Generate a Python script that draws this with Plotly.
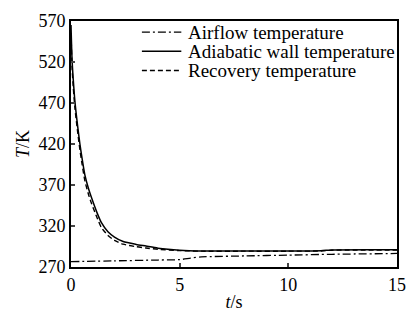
import plotly.graph_objects as go

# Time grid (s) and temperatures (K)
t_wall = [0, 0.05, 0.1, 0.18, 0.3, 0.41, 0.5, 0.64, 0.8, 0.95, 1.2, 1.4, 1.7,
          2.0, 2.4, 3.0, 3.45, 4.0, 5.0, 6.0, 8.0, 10.0, 11.5, 12.0, 15.0]
adiabatic_wall = [565, 522, 500, 472, 443, 420, 404, 382, 366, 354, 336, 324, 313,
                  306.5, 301, 297.5, 295.5, 293, 290.5, 289.5, 289.5, 289.5, 289.8, 290.8, 291]
recovery = [555, 513, 491, 464, 436, 413, 397, 375, 359, 347, 330, 318, 308.5,
            302.5, 297.8, 294.8, 293.2, 291.6, 290, 289.3, 289.3, 289.3, 289.6, 290.5, 290.8]

t_air = [0, 2, 4, 5, 5.5, 6, 8, 10, 12, 15]
airflow = [276.5, 277.5, 278.5, 279, 280.8, 282.3, 283.5, 284.5, 285.5, 286.5]

series_names = ["Airflow temperature", "Adiabatic wall temperature", "Recovery temperature"]

y_ticks = [270, 320, 370, 420, 470, 520, 570]
x_ticks = [0, 5, 10, 15]

FONT = "Liberation Serif"
styles = [
    dict(color="black", width=1.3, dash="8px,3px,2px,3px"),
    dict(color="black", width=1.5, dash="solid"),
    dict(color="black", width=1.4, dash="5px,3px"),
]

fig = go.Figure()
for (tx, ty), name, st in zip([(t_air, airflow), (t_wall, adiabatic_wall), (t_wall, recovery)],
                              series_names, styles):
    fig.add_trace(go.Scatter(x=tx, y=ty, mode="lines", name=name, showlegend=False,
                             line=dict(shape="spline", smoothing=0.6, **st)))

# Legend key drawn in paper coordinates: short line sample plus label per row
row_y = [0.955, 0.877, 0.799]
for yy, name, st in zip(row_y, series_names, styles):
    fig.add_shape(type="line", xref="paper", yref="paper",
                  x0=0.2175, x1=0.3384, y0=yy, y1=yy,
                  line=dict(color=st["color"], width=st["width"], dash=st["dash"]))
    fig.add_annotation(xref="paper", yref="paper", x=0.3535, y=yy, text=name,
                       showarrow=False, xanchor="left", yanchor="middle",
                       font=dict(family=FONT, size=19, color="black"))

fig.update_layout(
    width=417, height=320,
    margin=dict(l=71, r=15, t=11, b=41),
    paper_bgcolor="white", plot_bgcolor="white",
    font=dict(family=FONT, size=18, color="black"),
    showlegend=False,
)
fig.update_xaxes(range=[0, 15], tickvals=x_ticks, ticks="inside", ticklen=4,
                 tickwidth=1.5, showgrid=False, zeroline=False,
                 showline=True, linecolor="black", linewidth=1.8, mirror=True,
                 title=dict(text="<i>t</i>/s", standoff=2, font=dict(family=FONT, size=18)),
                 tickfont=dict(family=FONT, size=18))
fig.update_yaxes(range=[270, 570], tickvals=y_ticks, ticks="inside", ticklen=4,
                 tickwidth=1.5, showgrid=False, zeroline=False,
                 showline=True, linecolor="black", linewidth=1.8, mirror=True,
                 title=dict(text="<i>T</i>/K", standoff=4, font=dict(family=FONT, size=18)),
                 tickfont=dict(family=FONT, size=18))

fig.write_html("out.html")
